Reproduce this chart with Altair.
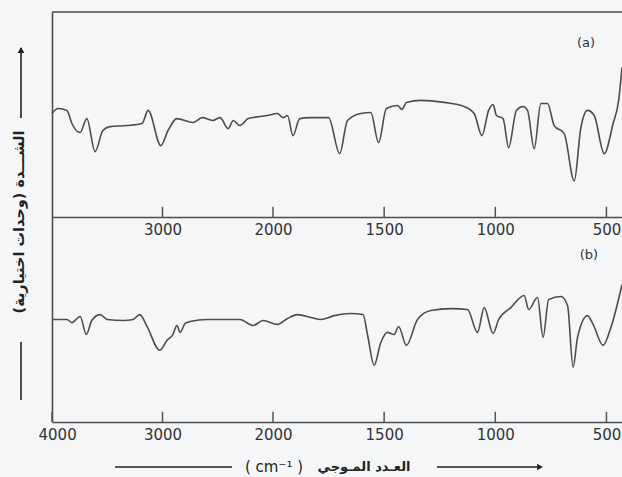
import altair as alt
import pandas as pd

# ---- data ----
wavenumber_a = [4000, 3945, 3865, 3820, 3745, 3685, 3610, 3540, 3475, 3320, 3185, 3130,
                3015, 2950, 2870, 2725, 2640, 2545, 2480, 2405, 2360, 2300, 2225, 2055,
                1980, 1955, 1935, 1910, 1880, 1835, 1750, 1700, 1665, 1605, 1560, 1525,
                1490, 1440, 1420, 1400, 1335, 1230, 1140, 1095, 1060, 1030, 1010, 995,
                965, 940, 905, 875, 855, 825, 795, 765, 735, 690, 645, 615, 585, 555,
                510, 470, 445, 430]
intensity_a = [50.5, 52.9, 52.0, 45.6, 41.2, 48.0, 31.9, 42.2, 44.1, 44.6, 45.6, 52.0,
               34.8, 42.2, 48.0, 46.1, 48.5, 47.1, 48.5, 43.1, 47.1, 44.6, 48.0, 49.5,
               50.5, 48.5, 49.5, 39.7, 48.0, 48.5, 48.5, 30.9, 47.1, 50.5, 51.0, 36.3,
               52.9, 54.4, 52.5, 55.9, 56.9, 55.9, 53.9, 50.5, 39.7, 52.0, 54.9, 49.5,
               48.0, 33.8, 52.0, 53.9, 52.0, 33.3, 55.4, 55.4, 44.6, 40.7, 17.6, 43.6,
               52.0, 49.5, 30.9, 45.6, 56.9, 73.0]

wavenumber_b = [4000, 3865, 3820, 3745, 3690, 3640, 3565, 3500, 3355, 3265, 3205, 3140,
                3025, 2960, 2905, 2870, 2840, 2795, 2750, 2595, 2415, 2300, 2180, 2090,
                1980, 1935, 1890, 1830, 1785, 1725, 1650, 1595, 1575, 1545, 1515, 1485,
                1455, 1435, 1400, 1350, 1290, 1200, 1125, 1080, 1050, 1010, 985, 930,
                870, 850, 810, 785, 760, 705, 675, 650, 630, 585, 560, 515, 480, 430]
intensity_b = [50.0, 50.0, 48.5, 51.5, 42.7, 49.5, 52.4, 50.0, 49.5, 50.0, 52.4, 46.6,
               35.0, 39.8, 42.7, 47.1, 43.7, 48.1, 49.0, 50.0, 50.0, 50.0, 47.1, 49.5,
               47.6, 50.5, 52.4, 51.0, 50.0, 51.9, 52.9, 52.4, 42.7, 27.7, 38.8, 43.7,
               42.7, 46.6, 37.4, 50.0, 54.4, 55.3, 54.9, 43.7, 55.8, 43.2, 50.0, 55.8,
               61.7, 54.9, 60.7, 41.3, 59.7, 61.2, 56.8, 26.7, 41.3, 51.9, 47.6, 37.4,
               46.1, 67.0]

ticks_middle = [3000, 2000, 1500, 1000, 500]
ticks_bottom = [4000, 3000, 2000, 1500, 1000, 500]
x_domain = [4000, 2000, 430]

y_title = "الشـــدة (وحدات اختيارية)"
x_title_ar = "العـدد المـوجي"
x_title_unit = "( cm⁻¹ )"

# ---- layout / style ----
W, H = 570, 410
INK = "#4d4d4d"
TXT = "#333333"
TICK = "#555555"
FONT = "DejaVu Sans"

df_a = pd.DataFrame({"wn": wavenumber_a, "i": intensity_a})
df_b = pd.DataFrame({"wn": wavenumber_b, "i": intensity_b})
df_tm = pd.DataFrame({"tick": ticks_middle})
df_tb = pd.DataFrame({"tick": ticks_bottom})
one = pd.DataFrame({"k": [0]})

xscale = alt.Scale(domain=x_domain, range=[0, 221, W], nice=False, zero=False)
# panel (b) occupies 0..100, panel (a) is lifted into 100..200
yscale = alt.Scale(domain=[0, 200], nice=False, zero=False)
y_axis = alt.Axis(orient="left", domain=True, domainColor=INK, domainWidth=1.6,
                  ticks=False, labels=False, grid=False, title=None)


def x_axis(offset, values):
    return alt.Axis(orient="top", offset=offset, values=values, format="d",
                    ticks=False, domainColor=INK, domainWidth=1.6,
                    labelPadding=-12, labelBaseline="middle", labelFont=FONT,
                    labelFontSize=15, labelColor=TXT, labelOverlap=False,
                    labelFlush=True, labelFlushOffset=14,
                    grid=False, title=None)


line_a = alt.Chart(df_a).transform_calculate(y="datum.i + 100").mark_line(
    color=INK, strokeWidth=1.6, interpolate="monotone").encode(
    x=alt.X("wn:Q", scale=xscale, axis=x_axis(-H / 2, ticks_middle)),
    y=alt.Y("y:Q", scale=yscale, axis=y_axis),
)

line_b = alt.Chart(df_b).mark_line(color=INK, strokeWidth=1.6,
                                   interpolate="monotone").encode(
    x=alt.X("wn:Q", scale=xscale, axis=x_axis(-H, ticks_bottom)),
    y=alt.Y("i:Q", scale=yscale, axis=y_axis),
)

# inward tick marks on the middle and bottom axis lines
tick_mid = alt.Chart(df_tm).mark_rule(color=TICK, strokeWidth=1.5).encode(
    x=alt.X("tick:Q", scale=xscale, axis=None),
    y=alt.datum(100), y2=alt.datum(105))
tick_bot = alt.Chart(df_tb).mark_rule(color=TICK, strokeWidth=1.5).encode(
    x=alt.X("tick:Q", scale=xscale, axis=None),
    y=alt.datum(0), y2=alt.datum(5))

top_border = alt.Chart(one).mark_rule(color=INK, strokeWidth=1.6).encode(
    x=alt.value(0), x2=alt.value(W), y=alt.value(0))

rule_style = dict(color="#222222", strokeWidth=1.6)
y_arrow = alt.Chart(one).mark_rule(**rule_style).encode(
    x=alt.value(-31), y=alt.value(36), y2=alt.value(106))
y_arrow_head = alt.Chart(one).mark_point(shape="triangle-up", filled=True, size=45,
                                         color="#222222", opacity=1).encode(
    x=alt.value(-31), y=alt.value(38))
y_line_low = alt.Chart(one).mark_rule(**rule_style).encode(
    x=alt.value(-31), y=alt.value(330), y2=alt.value(388))
y_text = alt.Chart(one).mark_text(text=y_title, angle=270, font=FONT, fontSize=14.5,
                                  fontWeight="bold", color="#222222").encode(
    x=alt.value(-32), y=alt.value(210))

x_line_left = alt.Chart(one).mark_rule(**rule_style).encode(
    x=alt.value(63), x2=alt.value(180), y=alt.value(455))
x_unit = alt.Chart(one).mark_text(text=x_title_unit, font=FONT, fontSize=15,
                                  color="#222222").encode(
    x=alt.value(222), y=alt.value(455))
x_ar = alt.Chart(one).mark_text(text=x_title_ar, font=FONT, fontSize=13,
                                fontWeight="bold", color="#222222").encode(
    x=alt.value(312), y=alt.value(455))
x_arrow = alt.Chart(one).mark_rule(**rule_style).encode(
    x=alt.value(385), x2=alt.value(486), y=alt.value(455))
x_arrow_head = alt.Chart(one).mark_point(shape="triangle-right", filled=True, size=45,
                                         color="#222222", opacity=1).encode(
    x=alt.value(488), y=alt.value(455))

label_a = alt.Chart(one).mark_text(text="(a)", font=FONT, fontSize=13, color=TXT).encode(
    x=alt.value(534), y=alt.value(31))
label_b = alt.Chart(one).mark_text(text="(b)", font=FONT, fontSize=13, color=TXT).encode(
    x=alt.value(537), y=alt.value(243))

chart = alt.layer(
    line_a, line_b, tick_mid, tick_bot, top_border,
    y_arrow, y_arrow_head, y_line_low, y_text,
    x_line_left, x_unit, x_ar, x_arrow, x_arrow_head,
    label_a, label_b,
).resolve_axis(x="independent").properties(
    width=W, height=H,
    autosize=alt.AutoSizeParams(type="none"),
    padding={"left": 52, "top": 12, "right": 0, "bottom": 55},
    background="#f5f6f8",
).configure_view(stroke=None)

chart.save("out.html", embed_options={"renderer": "svg", "actions": False})
